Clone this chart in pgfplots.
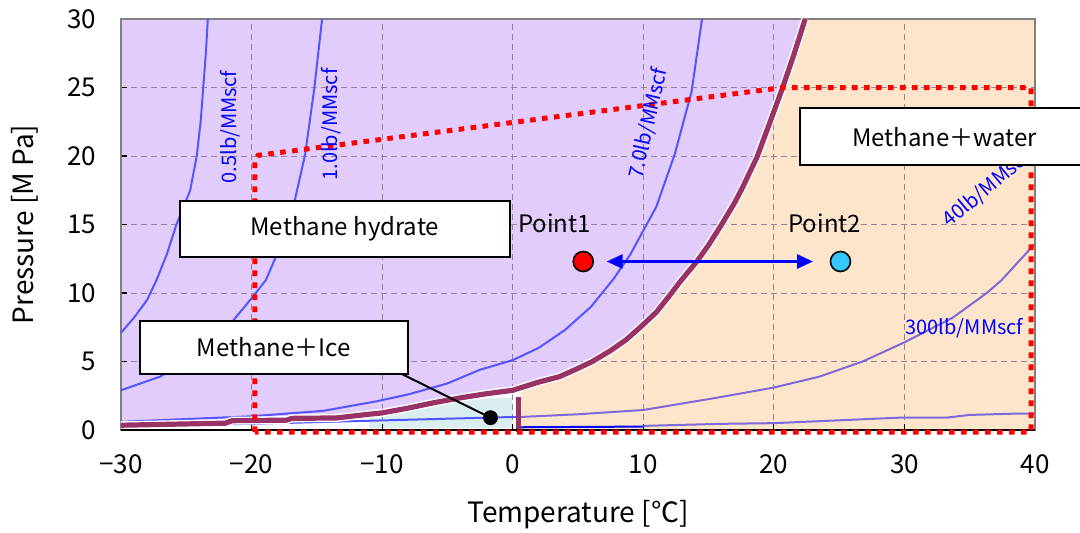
\documentclass[border=0pt]{standalone}
\usepackage{fontspec}
\setmainfont{Noto Sans CJK JP}
\usepackage{pgfplots}
\pgfplotsset{compat=1.18}
\usetikzlibrary{arrows.meta}

\definecolor{hydr}{RGB}{226,204,252}
\definecolor{peach}{RGB}{253,229,204}
\definecolor{icecol}{RGB}{218,238,240}
\definecolor{eqcol}{RGB}{153,51,102}
\definecolor{wline}{RGB}{85,85,255}
\definecolor{wline2}{RGB}{125,105,215}
\definecolor{gridc}{RGB}{150,130,150}
\definecolor{pt2}{RGB}{51,200,255}

% equilibrium curve (hydrate / ice)
\pgfplotstableread{
T P
-30 0.35
-22 0.5
-21.5 0.68
-17.3 0.72
-16.9 0.85
-13.5 0.88
-11.5 1.1
-10 1.25
-8 1.6
-6 2.0
-4 2.35
-2 2.65
0 2.9
2 3.5
3.6 3.9
5 4.5
6.1 5.0
7.5 5.8
8.7 6.6
10 7.7
11 8.6
12 9.8
12.8 10.8
14.1 12.3
15 13.5
16 15.0
17 16.6
17.6 17.7
18.7 19.9
19.6 22.2
20.6 24.8
21.5 27.3
22.4 30
}\eqtab

\begin{document}
\begin{tikzpicture}
\begin{axis}[
  name=ax,
  set layers,
  scale only axis,
  width=457pt, height=205.5pt,
  xmin=-30, xmax=40, ymin=0, ymax=30,
  xtick={-30,-20,...,40},
  xticklabels={−30,−20,−10,0,10,20,30,40},
  ytick={0,5,...,30},
  grid=major,
  major grid style={densely dashed, gridc, line width=0.5pt},
  axis line style={gray, line width=1pt},
  tick style={black, line width=0.6pt},
  major tick length=3pt,
  xtick pos=bottom, ytick pos=left,
  tick align=inside,
  /pgf/number format/assume math mode=true,
  ticklabel style={font=\fontsize{13}{15}\selectfont},
  xticklabel style={yshift=-9pt},
  yticklabel style={xshift=-9pt},
  xlabel={Temperature [℃]},
  ylabel={Pressure [M Pa]},
  xlabel style={at={(axis description cs:0.5,-0.207)}, anchor=center, font=\fontsize{14}{16}\selectfont},
  ylabel style={at={(axis description cs:-0.105,0.5)}, anchor=center, font=\fontsize{14}{16}\selectfont},
  clip=false,
]
% region fills
\addplot[fill=hydr, draw=none, on layer=axis background] coordinates {
 (-30,0.35) (-22,0.5) (-21.5,0.68) (-17.3,0.72) (-16.9,0.85) (-13.5,0.88) (-11.5,1.1)
 (-10,1.25) (-8,1.6) (-6,2.0) (-4,2.35) (-2,2.65) (0,2.9) (2,3.5) (3.6,3.9) (5,4.5)
 (6.1,5.0) (7.5,5.8) (8.7,6.6) (10,7.7) (11,8.6) (12,9.8) (12.8,10.8) (14.1,12.3)
 (15,13.5) (16,15.0) (17,16.6) (17.6,17.7) (18.7,19.9) (19.6,22.2) (20.6,24.8)
 (21.5,27.3) (22.4,30) (-30,30)} -- cycle;
\addplot[fill=peach, draw=none, on layer=axis background] coordinates {
 (0.6,0) (0.6,3.0) (2,3.5) (3.6,3.9) (5,4.5) (6.1,5.0) (7.5,5.8) (8.7,6.6) (10,7.7)
 (11,8.6) (12,9.8) (12.8,10.8) (14.1,12.3) (15,13.5) (16,15.0) (17,16.6) (17.6,17.7)
 (18.7,19.9) (19.6,22.2) (20.6,24.8) (21.5,27.3) (22.4,30) (40,30) (40,0)} -- cycle;
\addplot[fill=icecol, draw=none, on layer=axis background] coordinates {
 (-11,0.15) (-11,1.0) (-8,1.4) (-6,1.8) (-4,2.1) (-2,2.3) (0,2.35) (0,0.15)} -- cycle;

% water content curves
\addplot[wline, line width=1pt] coordinates {
 (-30,7.1) (-29,8.2) (-28,9.5) (-27.3,10.9) (-26.5,12.8) (-25.75,15.0) (-24.7,17.5)
 (-24.2,20) (-23.9,22.5) (-23.7,25) (-23.5,27.5) (-23.35,30)};
\addplot[wline, line width=1pt] coordinates {
 (-30,2.9) (-27,3.9) (-24,5.6) (-21.4,8.0) (-20.1,9.5) (-18.9,10.95) (-17.8,13.4)
 (-16.8,16.3) (-15.9,20.1) (-15.2,24.9) (-14.6,30)};
\addplot[wline, line width=1pt] coordinates {
 (-30,0.6) (-20,1.0) (-17.3,1.2) (-14.5,1.4) (-10.4,2.1) (-8,2.6) (-5,3.4) (-2.5,4.4)
 (0,5.1) (2,6.0) (4,7.3) (6,9.0) (7.7,11) (9,12.8) (11,16.3) (12.4,20.1) (13.7,24.7) (14.5,30)};
\addplot[wline, line width=1pt] coordinates {
 (-30,0.3) (-20,0.45) (-10,0.7) (0,0.95) (0.6,0.95)};
\addplot[wline2, line width=1pt] coordinates {
 (0.6,0.95) (5,1.15) (10,1.46) (15.9,2.4) (20,3.1) (23.5,3.9) (26.8,5.0) (30,6.4)
 (33.7,8.2) (36.3,10) (37.4,10.9) (40,13.6)};
\addplot[blue, line width=1pt] coordinates {(0.6,0.2) (10,0.25)};
\addplot[wline2, line width=1pt] coordinates {
 (10,0.3) (15.9,0.45) (20,0.5) (29.6,0.9) (33.2,0.9) (35,1.1) (38.6,1.2) (40,1.2)};

% equilibrium curve
\addplot[white, line width=4pt] table[x=T, y=P] {\eqtab};
\addplot[eqcol, line width=2.6pt] table[x=T, y=P] {\eqtab};
\addplot[eqcol, line width=2.6pt] coordinates {(0.45,2.4) (0.45,-0.15)};
\draw[black, line width=1pt] (axis cs:-30,0) -- (axis cs:40,0);

% operating envelope
\addplot[red, line width=2.5pt, dash pattern=on 2.8pt off 3.2pt] coordinates {
 (-19.75,-0.15) (-19.75,19.7) (-19.5,20.05) (20.7,25.0) (39.7,25.0) (39.7,-0.15) (-19.75,-0.15)};

% curve labels
\node[rotate=90, text=blue, font=\fontsize{10}{12}\selectfont] at (axis cs:-21.6,22.1) {0.5lb/MMscf};
\node[rotate=90, text=blue, font=\fontsize{10}{12}\selectfont] at (axis cs:-13.9,22.3) {1.0lb/MMscf};
\node[rotate=77, text=blue, font=\fontsize{10}{12}\selectfont] at (axis cs:10.4,22.4) {7.0lb/MMscf};
\node[rotate=40, text=blue, font=\fontsize{10}{12}\selectfont] at (axis cs:36.3,17.6) {40lb/MMscf};
\node[text=blue, font=\fontsize{10}{12}\selectfont] at (axis cs:34.6,7.4) {300lb/MMscf};

% region boxes
\node[draw=black, fill=white, line width=1pt, minimum width=165pt, minimum height=28pt,
  font=\fontsize{12}{14}\selectfont] at (axis cs:-12.86,14.67) {Methane hydrate};
\draw[black, line width=1pt] (axis cs:-8.5,4.09) -- (axis cs:-1.7,0.9);
\node[draw=black, fill=white, line width=1pt, minimum width=134pt, minimum height=26.5pt,
  font=\fontsize{12}{14}\selectfont] at (axis cs:-18.3,6.02) {Methane＋Ice};
\node[draw=black, fill=white, line width=1pt, minimum width=145pt, minimum height=28.5pt,
  font=\fontsize{12}{14}\selectfont] at (axis cs:33.08,21.4) {Methane＋water};
\addplot[only marks, mark=*, mark size=3.5pt, black] coordinates {(-1.7,0.9)};

% points
\addplot[blue, line width=1.5pt, {Triangle[length=8pt,width=7pt]}-{Triangle[length=8pt,width=7pt]}]
  coordinates {(7.2,12.3) (23.0,12.3)};
\addplot[only marks, mark=*, mark size=5pt, mark options={fill=red, draw=black, line width=0.8pt}]
  coordinates {(5.4,12.3)};
\addplot[only marks, mark=*, mark size=5pt, mark options={fill=pt2, draw=black, line width=0.8pt}]
  coordinates {(25.1,12.3)};
\node[font=\fontsize{12}{14}\selectfont] at (axis cs:3.2,15.1) {Point1};
\node[font=\fontsize{12}{14}\selectfont] at (axis cs:23.9,15.1) {Point2};

\coordinate (SW) at (rel axis cs:0,0);
\coordinate (NE) at (rel axis cs:1,1);
\end{axis}
\pgfresetboundingbox
\useasboundingbox ([xshift=-60.5pt,yshift=-51pt]SW) rectangle ([xshift=22.5pt,yshift=9.5pt]NE);
\end{tikzpicture}
\end{document}
